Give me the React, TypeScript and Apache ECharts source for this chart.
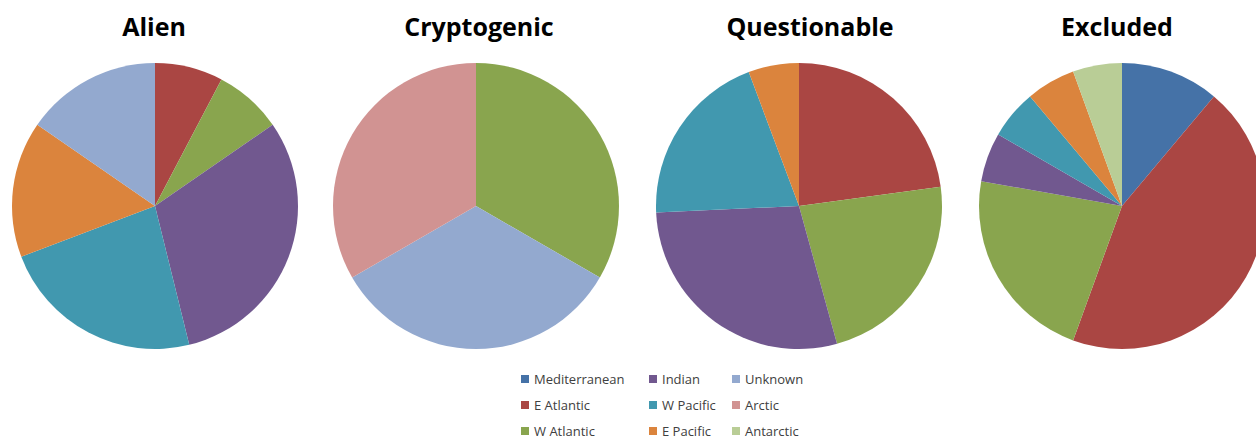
import React, { useEffect, useRef } from "react";
import * as echarts from "echarts";

const regions = [
  "Mediterranean",
  "E Atlantic",
  "W Atlantic",
  "Indian",
  "W Pacific",
  "E Pacific",
  "Unknown",
  "Arctic",
  "Antarctic",
];
const regionColors = [
  "#4572A7",
  "#AA4643",
  "#89A54E",
  "#71588F",
  "#4198AF",
  "#DB843D",
  "#93A9CF",
  "#D19392",
  "#B9CD96",
];
const panelTitles = ["Alien", "Cryptogenic", "Questionable", "Excluded"];
const alienValues = [0, 1, 1, 4, 3, 2, 2, 0, 0];
const cryptogenicValues = [0, 0, 1, 0, 0, 0, 1, 1, 0];
const questionableValues = [0, 8, 8, 10, 7, 2, 0, 0, 0];
const excludedValues = [2, 8, 4, 1, 1, 1, 0, 0, 1];
const legendColumns = [
  ["Mediterranean", "E Atlantic", "W Atlantic"],
  ["Indian", "W Pacific", "E Pacific"],
  ["Unknown", "Arctic", "Antarctic"],
];

const panelValues = [alienValues, cryptogenicValues, questionableValues, excludedValues];
const pieCenters = [155, 476, 799, 1122];
const titleCenters = [154, 479, 810, 1117];
const legendLefts = [521, 649, 732];

export default function App() {
  const ref = useRef<HTMLDivElement>(null);
  useEffect(() => {
    document.body.style.margin = "0";
    if (!ref.current) return;
    const chart = echarts.init(ref.current, undefined, { renderer: "svg" });
    const series = panelValues.map((vals, i) => ({
      type: "pie",
      name: panelTitles[i],
      center: [pieCenters[i], 206],
      radius: 143,
      startAngle: 90,
      clockwise: true,
      label: { show: false },
      labelLine: { show: false },
      emphasis: { disabled: true },
      itemStyle: { borderWidth: 0 },
      data: regions
        .map((r, j) => ({ name: r, value: vals[j], itemStyle: { color: regionColors[j] } }))
        .filter((d) => d.value > 0),
    }));
    chart.setOption({
      animation: false,
      backgroundColor: "#ffffff",
      title: panelTitles.map((t, i) => ({
        text: t,
        left: titleCenters[i],
        top: 13,
        padding: 0,
        textAlign: "center",
        textStyle: {
          fontFamily: "Open Sans",
          fontWeight: "bold",
          fontSize: 25,
          color: "#000000",
        },
      })),
      legend: legendColumns.map((col, i) => ({
        data: col,
        orient: "vertical",
        left: legendLefts[i],
        top: 372,
        height: 80,
        padding: 0,
        itemWidth: 8,
        itemHeight: 8,
        itemGap: 12,
        icon: "rect",
        selectedMode: false,
        textStyle: { fontFamily: "Open Sans", fontSize: 13, lineHeight: 14, color: "#404040" },
      })),
      series,
    });
    return () => chart.dispose();
  }, []);
  return <div ref={ref} style={{ width: 1256, height: 440 }} />;
}
